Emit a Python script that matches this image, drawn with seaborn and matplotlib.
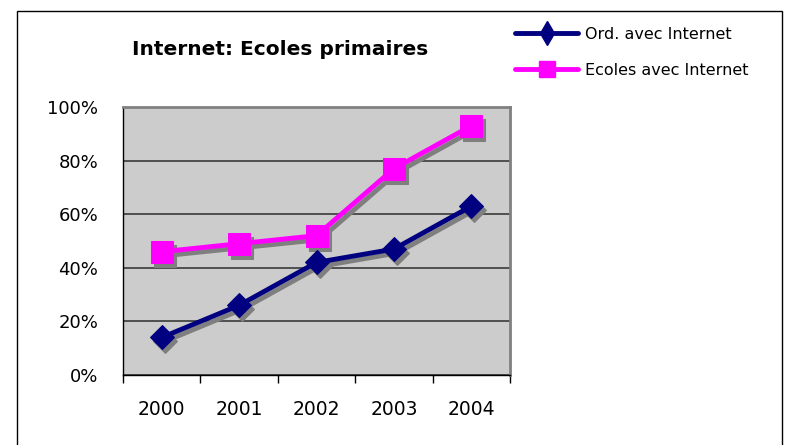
import matplotlib
matplotlib.use("Agg")
import matplotlib.pyplot as plt
from matplotlib.lines import Line2D
from matplotlib.patches import Rectangle
from matplotlib.ticker import FixedLocator, PercentFormatter
from matplotlib.transforms import offset_copy
import pandas as pd
import seaborn as sns

years = ["2000", "2001", "2002", "2003", "2004"]
ord_internet = [14, 26, 42, 47, 63]
ecoles_internet = [46, 49, 52, 77, 93]
series_names = ["Ord. avec Internet", "Ecoles avec Internet"]
series_colors = ["#000080", "#FF00FF"]
y_ticks = [0, 20, 40, 60, 80, 100]

df = pd.DataFrame({
    "annee": years * 2,
    "valeur": ord_internet + ecoles_internet,
    "serie": [series_names[0]] * len(years) + [series_names[1]] * len(years),
})

sns.set_style("white")
plt.rcParams["font.family"] = ["DejaVu Sans"]
plt.rcParams["text.color"] = "black"

fig = plt.figure(figsize=(7.9, 4.45), dpi=100)
ax = fig.add_axes([0.1557, 0.1573, 0.4899, 0.6022])
ax.set_facecolor("#CCCCCC")

# drop shadow: same series, shifted a few pixels right and down
shadow_tf = offset_copy(ax.transData, fig=fig, x=3, y=-4, units="dots")

markers = ["D", "s"]
sizes = [12.5, 16]
for name, color, mk, ms in zip(series_names, series_colors, markers, sizes):
    sub = df[df["serie"] == name]
    sns.lineplot(data=sub, x="annee", y="valeur", ax=ax, color="#7F7F7F", lw=3.5,
                 marker=mk, markersize=ms, markeredgecolor="#7F7F7F",
                 transform=shadow_tf, legend=False, sort=False, zorder=2)
    sns.lineplot(data=sub, x="annee", y="valeur", ax=ax, color=color, lw=3.5,
                 marker=mk, markersize=ms, markeredgecolor=color,
                 legend=False, sort=False, zorder=3)

ax.set_xlim(-0.5, 4.5)
ax.set_ylim(0, 100)
ax.set_xlabel("")
ax.set_ylabel("")

# y axis
ax.yaxis.set_major_locator(FixedLocator(y_ticks))
ax.yaxis.set_major_formatter(PercentFormatter(decimals=0))
ax.tick_params(axis="y", which="major", direction="out", length=5, width=1,
               color="black", pad=13, labelsize=13, labelcolor="black")
ax.grid(axis="y", color="#3A3A3A", lw=1.2)
ax.grid(axis="x", visible=False)

# x axis: labels centred in each category, tick marks on the boundaries
ax.set_xticks(range(len(years)))
ax.set_xticklabels(years)
ax.set_xticks([i - 0.5 for i in range(len(years) + 1)], minor=True)
ax.tick_params(axis="x", which="major", length=0, pad=18, labelsize=13.5, labelcolor="black")
ax.tick_params(axis="x", which="minor", direction="out", length=6, width=1,
               color="black", bottom=True)

for side in ["top", "right"]:
    ax.spines[side].set_color("#808080")
    ax.spines[side].set_linewidth(2)
for side in ["left", "bottom"]:
    ax.spines[side].set_color("black")
    ax.spines[side].set_linewidth(1)
ax.set_axisbelow(True)

fig.text(0.354, 0.888, "Internet: Ecoles primaires", ha="center", va="center",
         fontsize=14.5, fontweight="bold", color="black")

handles = [Line2D([], [], color=series_colors[0], lw=3.5, marker="d", markersize=12.5,
                  markeredgecolor=series_colors[0]),
           Line2D([], [], color=series_colors[1], lw=3.5, marker="s", markersize=12,
                  markeredgecolor=series_colors[1])]
fig.legend(handles, series_names, loc="upper left", bbox_to_anchor=(0.644, 0.954),
           frameon=False, fontsize=11.5, handlelength=3.95, handletextpad=0.45,
           labelspacing=1.3, borderaxespad=0, labelcolor="black")

fig.patches.append(Rectangle((0.0215, -0.1), 0.968, 1.075, transform=fig.transFigure,
                             fill=False, edgecolor="black", lw=1))

fig.savefig("out.png", dpi=100)
